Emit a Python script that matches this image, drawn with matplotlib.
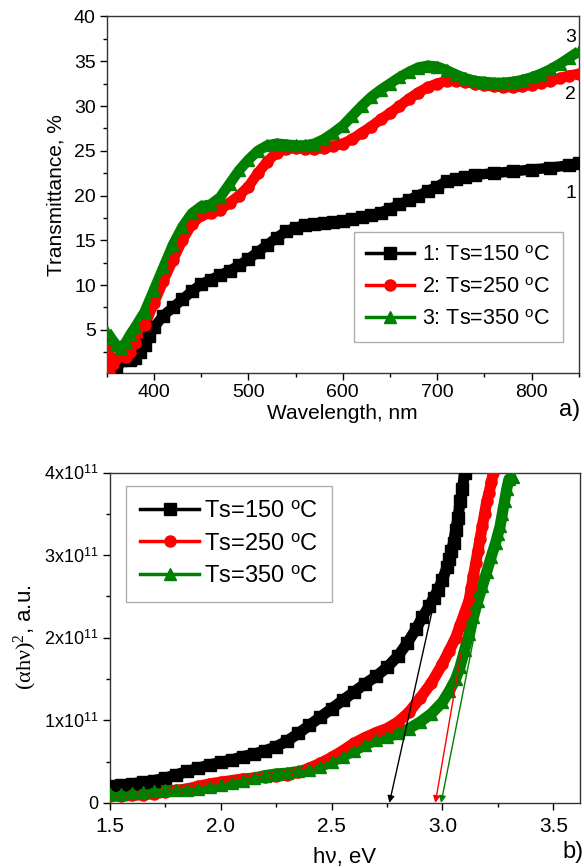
import matplotlib
import numpy as np

matplotlib.use("Agg")
import matplotlib.pyplot as plt
from matplotlib.ticker import MultipleLocator, FixedLocator

plt.rcParams["font.family"] = ["Liberation Sans", "DejaVu Sans"]
plt.rcParams["mathtext.fontset"] = "custom"
plt.rcParams["mathtext.rm"] = "Liberation Serif"
plt.rcParams["mathtext.sf"] = "Liberation Sans"
plt.rcParams["mathtext.it"] = "Liberation Serif:italic"

# ---------------------------------------------------------------------------
# Panel a) transmittance spectra
# ---------------------------------------------------------------------------
wl_150 = [360, 365, 370, 375, 380, 385, 390, 395, 400, 410, 420, 430, 440, 450,
          460, 470, 480, 490, 500, 510, 520, 530, 540, 550, 560, 570, 580, 590,
          600, 610, 620, 630, 640, 650, 660, 670, 680, 690, 700, 710, 720, 730,
          740, 760, 780, 800, 820, 840, 850]
t_150 = [0.3, 1.6, 1.8, 1.6, 1.8, 2.5, 3.3, 4.3, 5.3, 6.6, 7.5, 8.4, 9.3, 10.1,
         10.6, 11.1, 11.6, 12.2, 12.9, 13.7, 14.5, 15.3, 16.0, 16.4, 16.7, 16.8,
         16.9, 17.0, 17.2, 17.4, 17.6, 17.8, 18.1, 18.5, 19.0, 19.5, 20.0, 20.5,
         21.0, 21.6, 21.9, 22.1, 22.3, 22.5, 22.7, 22.9, 23.1, 23.4, 23.6]

wl_250 = [351, 352, 356, 360, 365, 370, 375, 380, 390, 400, 410, 420, 430, 440,
          450, 460, 470, 480, 490, 500, 510, 520, 530, 540, 550, 560, 570, 580,
          590, 600, 610, 620, 630, 640, 650, 660, 670, 680, 690, 700, 710, 720,
          730, 740, 750, 760, 770, 780, 790, 800, 810, 820, 830, 840, 850]
t_250 = [2.8, 0.3, 1.2, 1.8, 2.2, 2.0, 2.5, 3.5, 5.5, 8.0, 10.5, 12.8, 15.0,
         16.8, 17.8, 18.0, 18.4, 19.2, 20.0, 21.0, 22.5, 23.8, 24.8, 25.2, 25.3,
         25.2, 25.2, 25.3, 25.5, 25.8, 26.3, 27.0, 27.7, 28.5, 29.2, 30.0, 30.8,
         31.5, 32.1, 32.5, 32.8, 32.8, 32.7, 32.5, 32.3, 32.2, 32.1, 32.1, 32.2,
         32.4, 32.6, 32.8, 33.1, 33.4, 33.6]

wl_350 = [350, 355, 360, 365, 370, 375, 380, 390, 400, 410, 420, 430, 440, 450,
          460, 470, 480, 490, 500, 510, 520, 530, 540, 550, 560, 570, 580, 590,
          600, 610, 620, 630, 640, 650, 660, 670, 680, 690, 700, 710, 720, 730,
          740, 750, 760, 770, 780, 790, 800, 810, 820, 830, 840, 850]
t_350 = [4.8, 4.0, 3.3, 3.0, 3.6, 4.5, 5.3, 7.0, 9.5, 12.0, 14.5, 16.5, 18.0,
         18.8, 19.0, 19.8, 21.3, 22.8, 24.0, 25.0, 25.6, 25.8, 25.7, 25.6, 25.6,
         25.8, 26.3, 27.0, 27.8, 28.9, 30.0, 31.0, 31.8, 32.5, 33.2, 33.8, 34.3,
         34.5, 34.4, 34.0, 33.5, 33.1, 32.8, 32.7, 32.6, 32.6, 32.7, 32.9, 33.2,
         33.6, 34.1, 34.7, 35.4, 36.1]

labels_a = ["1: Ts=150 $^{\\mathsf{o}}$C", "2: Ts=250 $^{\\mathsf{o}}$C",
            "3: Ts=350 $^{\\mathsf{o}}$C"]
curve_tags = ["1", "2", "3"]
tag_y = [20.2, 31.3, 37.6]

# ---------------------------------------------------------------------------
# Panel b) Tauc plot
# ---------------------------------------------------------------------------
hv_150 = [1.50, 1.55, 1.60, 1.65, 1.70, 1.75, 1.80, 1.85, 1.90, 1.95, 2.00,
          2.05, 2.10, 2.15, 2.20, 2.25, 2.30, 2.35, 2.40, 2.45, 2.50, 2.55,
          2.60, 2.65, 2.70, 2.75, 2.80, 2.84, 2.88, 2.91, 2.94, 2.96, 2.98,
          3.00, 3.02, 3.03, 3.04, 3.05, 3.06, 3.07, 3.08, 3.09, 3.10]
a_150 = [0.20, 0.21, 0.23, 0.25, 0.27, 0.30, 0.34, 0.38, 0.42, 0.46, 0.49,
         0.52, 0.56, 0.59, 0.63, 0.68, 0.75, 0.84, 0.94, 1.04, 1.14, 1.24,
         1.34, 1.44, 1.53, 1.64, 1.78, 1.93, 2.10, 2.25, 2.38, 2.48, 2.58,
         2.70, 2.85, 2.95, 3.05, 3.15, 3.30, 3.45, 3.65, 3.80, 4.00]

hv_250 = [1.50, 1.55, 1.60, 1.65, 1.70, 1.75, 1.80, 1.85, 1.90, 1.95, 2.00,
          2.05, 2.10, 2.15, 2.20, 2.25, 2.30, 2.35, 2.40, 2.45, 2.50, 2.55,
          2.60, 2.65, 2.70, 2.75, 2.80, 2.85, 2.90, 2.95, 3.00, 3.03, 3.06,
          3.08, 3.10, 3.12, 3.13, 3.14, 3.15, 3.16, 3.17, 3.18, 3.19, 3.20,
          3.21, 3.22, 3.23]
a_250 = [0.08, 0.08, 0.09, 0.10, 0.11, 0.13, 0.15, 0.17, 0.20, 0.23, 0.25,
         0.27, 0.29, 0.30, 0.31, 0.32, 0.34, 0.37, 0.42, 0.48, 0.55, 0.63,
         0.72, 0.79, 0.85, 0.90, 0.98, 1.10, 1.27, 1.45, 1.68, 1.84, 2.00,
         2.15, 2.30, 2.45, 2.60, 2.75, 2.90, 3.05, 3.20, 3.35, 3.50, 3.65,
         3.75, 3.88, 4.00]

hv_350 = [1.50, 1.55, 1.60, 1.65, 1.70, 1.75, 1.80, 1.85, 1.90, 1.95, 2.00,
          2.05, 2.10, 2.15, 2.20, 2.25, 2.30, 2.35, 2.40, 2.45, 2.50, 2.55,
          2.60, 2.65, 2.70, 2.75, 2.80, 2.85, 2.90, 2.95, 3.00, 3.03, 3.06,
          3.08, 3.10, 3.12, 3.14, 3.16, 3.18, 3.20, 3.22, 3.24, 3.25, 3.26,
          3.27, 3.28, 3.29, 3.30, 3.32]
a_350 = [0.11, 0.11, 0.12, 0.13, 0.14, 0.15, 0.15, 0.16, 0.17, 0.19, 0.21,
         0.24, 0.27, 0.30, 0.33, 0.35, 0.36, 0.38, 0.40, 0.44, 0.50, 0.56,
         0.63, 0.70, 0.76, 0.80, 0.84, 0.90, 0.98, 1.08, 1.22, 1.35, 1.50,
         1.65, 1.85, 2.05, 2.25, 2.45, 2.62, 2.80, 2.98, 3.15, 3.25, 3.35,
         3.50, 3.65, 3.80, 3.92, 3.95]

labels_b = ["Ts=150 $^{\\mathsf{o}}$C", "Ts=250 $^{\\mathsf{o}}$C",
            "Ts=350 $^{\\mathsf{o}}$C"]

# tangent lines (start on the curve, end on the hv axis)
tan_x0 = [2.955, 3.084, 3.152]
tan_y0 = [2.34, 1.81, 2.14]
tan_x1 = [2.761, 2.968, 2.994]

COLORS = ["#000000", "#ff0000", "#008000"]
MARKERS = ["s", "o", "^"]
SCALE = 1e11


def style_axes(ax):
    for sp in ax.spines.values():
        sp.set_linewidth(1.0)
        sp.set_color("#333333")
    ax.tick_params(which="both", direction="out", top=False, right=False,
                   labelsize=14, pad=3)
    ax.tick_params(which="major", length=5, width=1)
    ax.tick_params(which="minor", length=3, width=1)


fig = plt.figure(figsize=(5.84, 8.67), dpi=100)

# --- panel a --------------------------------------------------------------
ax1 = fig.add_axes([0.183, 0.570, 0.808, 0.411])
series_a = [(wl_150, t_150), (wl_250, t_250), (wl_350, t_350)]
for (x, y), c, m, lab in zip(series_a, COLORS, MARKERS, labels_a):
    ax1.plot(x, y, color=c, lw=7.5, solid_capstyle="butt", zorder=2)
    ax1.plot(x, y, color=c, lw=2.5, marker=m, ms=8, mec=c, label=lab,
             zorder=3)

ax1.set_xlim(350, 850)
ax1.set_ylim(0.2, 40)
ax1.xaxis.set_major_locator(FixedLocator([400, 500, 600, 700, 800]))
ax1.xaxis.set_minor_locator(MultipleLocator(50))
ax1.yaxis.set_major_locator(FixedLocator([5, 10, 15, 20, 25, 30, 35, 40]))
ax1.yaxis.set_minor_locator(MultipleLocator(2.5))
style_axes(ax1)
ax1.set_xlabel("Wavelength, nm", fontsize=15, labelpad=2)
ax1.set_ylabel("Transmittance, %", fontsize=15, labelpad=6)

for tag, ty in zip(curve_tags, tag_y):
    ax1.text(847, ty, tag, fontsize=14, ha="right", va="center")

leg1 = ax1.legend(loc="lower right", bbox_to_anchor=(0.99, 0.055),
                  fontsize=15.5, frameon=True, fancybox=False,
                  edgecolor="#999999", handlelength=2.2, handletextpad=0.4,
                  borderpad=0.6, labelspacing=0.5)
leg1.get_frame().set_linewidth(1.0)
fig.text(0.975, 0.527, "a)", fontsize=17, ha="center", va="center")

# --- panel b --------------------------------------------------------------
ax2 = fig.add_axes([0.188, 0.074, 0.805, 0.381])
series_b = [(hv_150, a_150), (hv_250, a_250), (hv_350, a_350)]
for (x, y), c, m, lab in zip(series_b, COLORS, MARKERS, labels_b):
    y = np.asarray(y) * SCALE
    ax2.plot(x, y, color=c, lw=8, solid_capstyle="butt", zorder=2)
    ax2.plot(x, y, color=c, lw=2.5, marker=m, ms=8, mec=c, label=lab,
             zorder=3)

for x0, y0, x1, c in zip(tan_x0, tan_y0, tan_x1, COLORS):
    ax2.annotate("", xy=(x1, 0), xytext=(x0, y0 * SCALE),
                 arrowprops=dict(arrowstyle="-|>", color=c, lw=1.0,
                                 mutation_scale=10, shrinkA=0, shrinkB=0),
                 zorder=5)

ax2.set_xlim(1.5, 3.62)
ax2.set_ylim(0, 4 * SCALE)
ax2.xaxis.set_major_locator(FixedLocator([1.5, 2.0, 2.5, 3.0, 3.5]))
ax2.xaxis.set_minor_locator(MultipleLocator(0.25))
ax2.set_xticklabels(["1.5", "2.0", "2.5", "3.0", "3.5"])
ax2.yaxis.set_major_locator(FixedLocator([0, SCALE, 2 * SCALE, 3 * SCALE,
                                          4 * SCALE]))
ax2.yaxis.set_minor_locator(MultipleLocator(0.5 * SCALE))
ax2.set_yticklabels(["0"] + [f"{k}x10$^{{\\mathsf{{11}}}}$" for k in range(1, 5)])
style_axes(ax2)
ax2.tick_params(axis="x", labelsize=15, pad=5)
ax2.tick_params(axis="y", labelsize=13)
ax2.set_xlabel("h\u03bd, eV", fontsize=16, labelpad=8)
ax2.set_ylabel("$\\mathrm{(\\alpha h\\nu)^2}$, a.u.", fontsize=16, labelpad=4)

leg2 = ax2.legend(loc="upper left", bbox_to_anchor=(0.01, 0.995),
                  fontsize=17, frameon=True, fancybox=False,
                  edgecolor="#999999", handlelength=2.5, handletextpad=0.2,
                  borderpad=0.6, labelspacing=0.45)
leg2.get_frame().set_linewidth(1.0)
fig.text(0.982, 0.017, "b)", fontsize=17, ha="center", va="center")

fig.savefig("out.png", dpi=100)
plt.close(fig)
